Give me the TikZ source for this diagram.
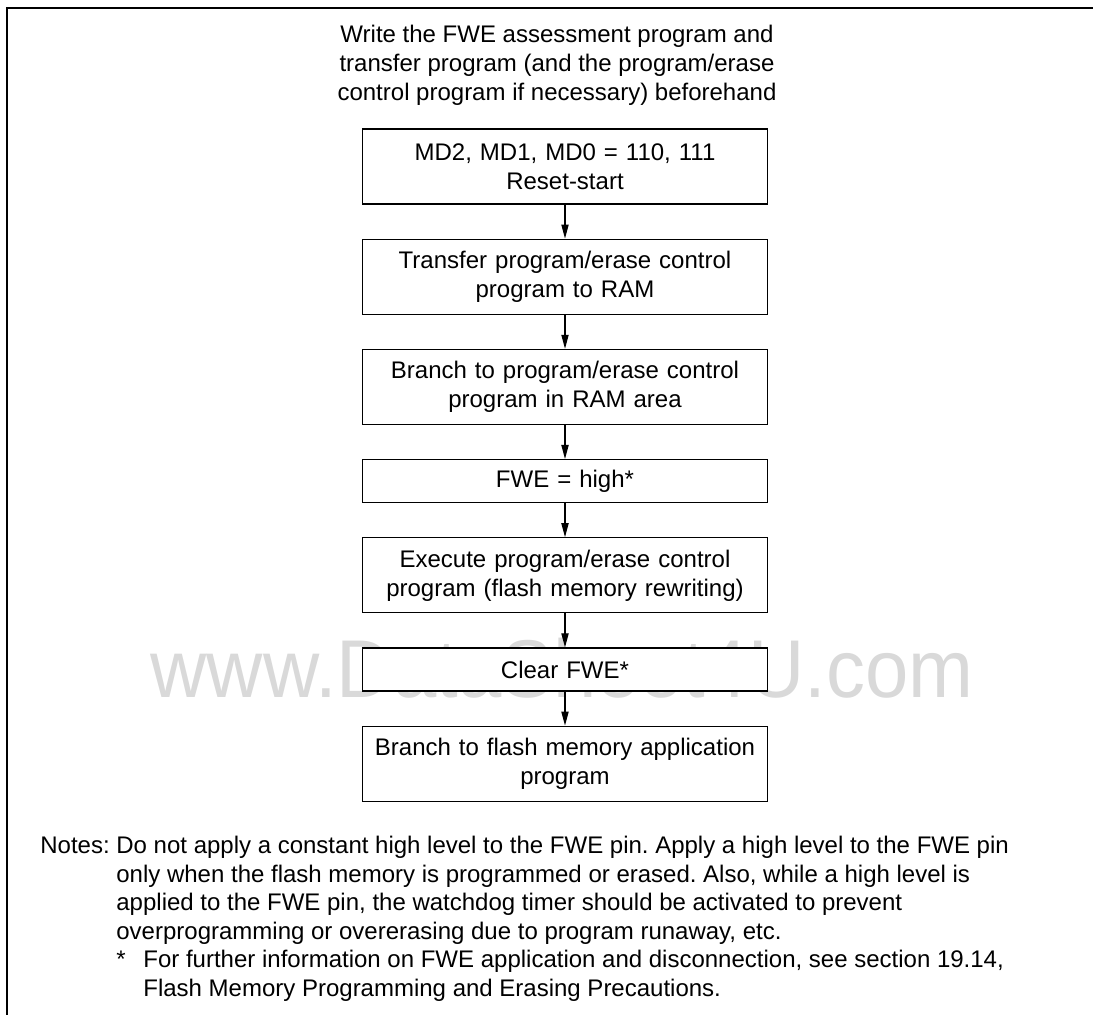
\documentclass[tikz,border=0pt]{standalone}
\usepackage{fontspec}
\setmainfont{Liberation Sans}
\usetikzlibrary{arrows.meta,positioning}
\frenchspacing

\begin{document}
\begin{tikzpicture}[>={Triangle[length=7pt,width=3.6pt]},font=\fontsize{12}{14.5}\selectfont,
  procbox/.style={draw=black,line width=0.6pt,fill=white,text width=194.5pt,inner xsep=4pt,inner ysep=0pt,align=center,minimum height=37.5pt},
  shortbox/.style={procbox,minimum height=21.5pt},
  flow/.style={->,line width=0.6pt},
  node distance=17pt]
\useasboundingbox (0,0) rectangle (546.5pt,-507.5pt);
\draw[line width=0.8pt] (546.5pt,-4pt) -- (3.5pt,-4pt) -- (3.5pt,-507.5pt);
\node[text=black!15,font=\fontsize{41}{41}\selectfont,xscale=0.95,anchor=base] (watermark) at (281pt,-349pt) {www.DataSheet4U.com};
\node[align=center,anchor=north,inner sep=0pt] (prep) at (278.5pt,-10.7pt) {\strut Write the FWE assessment program and\\transfer program (and the program/erase\\control program if necessary) beforehand};
\node[procbox] (reset) at (282.5pt,-83.25pt) {MD2, MD1, MD0 = 110, 111\\Reset-start};
\node[procbox,below=of reset] (transfer) {Transfer program/erase control\\program to RAM};
\node[procbox,below=of transfer] (branchram) {Branch to program/erase control\\program in RAM area};
\node[shortbox,below=of branchram] (fwehigh) {FWE = high*};
\node[procbox,below=of fwehigh] (execute) {Execute program/erase control\\program (flash memory rewriting)};
\node[shortbox,below=of execute] (clearfwe) {Clear FWE*};
\node[procbox,below=of clearfwe] (branchapp) {Branch to flash memory application\\program};
\foreach \a/\b in {reset/transfer,transfer/branchram,branchram/fwehigh,fwehigh/execute,execute/clearfwe,clearfwe/branchapp}
  \draw[flow] (\a.south) -- (\b.north);
% notes under the flow
\node[anchor=north west,inner sep=0pt] (noteslabel) at (20pt,-416.5pt) {\strut Notes:};
\node[anchor=north west,inner sep=0pt,align=left,font=\fontsize{12}{14.3}\selectfont] (notesbody) at (58pt,-416.5pt) {\strut Do not apply a constant high level to the FWE pin. Apply a high level to the FWE pin\\only when the flash memory is programmed or erased. Also, while a high level is\\applied to the FWE pin, the watchdog timer should be activated to prevent\\overprogramming or overerasing due to program runaway, etc.\\\makebox[13.5pt][l]{*}For further information on FWE application and disconnection, see section 19.14,\\\hspace*{13.5pt}Flash Memory Programming and Erasing Precautions.};
\end{tikzpicture}
\end{document}
